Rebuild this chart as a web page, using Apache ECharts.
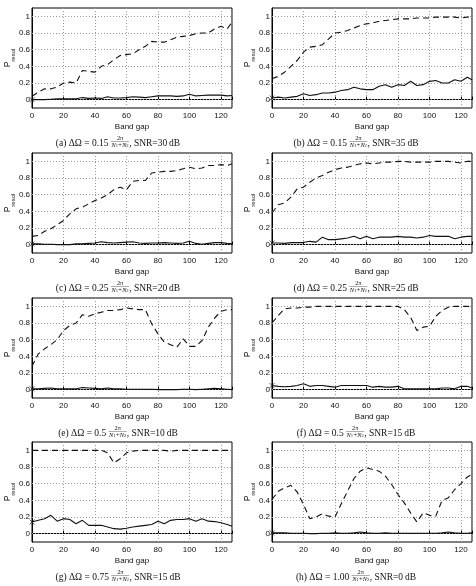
<!DOCTYPE html>
<html><head><meta charset="utf-8">
<script src="https://cdn.jsdelivr.net/npm/echarts@6/dist/echarts.min.js"></script>
<style>html,body{margin:0;padding:0;background:#fff}#c{width:476px;height:586px}</style>
</head><body><div id="c"></div>
<script>
const bandGap = [0,4,8,12,16,20,24,28,32,36,40,44,48,52,56,60,64,68,72,76,80,84,88,92,96,100,104,108,112,116,120,124,127];
const yTicks = [0,0.2,0.4,0.6,0.8,1];
const xTicks = [0,20,40,60,80,100,120];

const dashA = [0.04,0.09,0.13,0.13,0.15,0.2,0.21,0.2,0.35,0.34,0.33,0.4,0.42,0.48,0.53,0.54,0.55,0.6,0.64,0.7,0.69,0.69,0.72,0.75,0.76,0.77,0.79,0.8,0.8,0.85,0.88,0.85,0.93];
const solidA = [0,0,0,0.005,0.01,0.01,0.01,0.01,0.025,0.015,0.02,0.015,0.035,0.02,0.02,0.025,0.035,0.03,0.025,0.035,0.045,0.045,0.045,0.04,0.045,0.065,0.045,0.05,0.055,0.055,0.055,0.045,0.05];
const dashB = [0.25,0.28,0.33,0.4,0.47,0.57,0.63,0.64,0.66,0.73,0.8,0.81,0.83,0.86,0.89,0.91,0.92,0.94,0.95,0.96,0.97,0.97,0.97,0.98,0.98,0.98,0.99,0.99,0.99,0.99,0.98,0.99,1.0];
const solidB = [0.02,0.03,0.02,0.03,0.04,0.07,0.05,0.06,0.08,0.08,0.09,0.11,0.12,0.15,0.13,0.12,0.12,0.16,0.18,0.15,0.18,0.17,0.22,0.17,0.18,0.22,0.23,0.2,0.2,0.24,0.22,0.27,0.24];
const dashC = [0.1,0.11,0.16,0.19,0.24,0.29,0.37,0.43,0.45,0.49,0.53,0.56,0.6,0.66,0.69,0.66,0.76,0.77,0.77,0.86,0.87,0.88,0.88,0.89,0.91,0.93,0.91,0.92,0.95,0.95,0.96,0.95,0.97];
const solidC = [0.01,0.01,0.005,0.005,0,0,0,0.01,0.01,0.015,0.02,0.035,0.025,0.02,0.025,0.03,0.035,0.02,0.015,0.02,0.02,0.025,0.02,0.015,0.02,0.04,0.015,0.005,0.015,0.025,0.025,0.015,0.01];
const dashD = [0.38,0.48,0.5,0.57,0.67,0.69,0.75,0.8,0.83,0.87,0.9,0.92,0.93,0.95,0.97,0.98,0.97,0.98,0.99,0.99,1,1,0.99,0.99,0.99,0.99,1,1,1,0.99,0.98,1,1];
const solidD = [0.02,0.02,0.015,0.025,0.025,0.025,0.04,0.03,0.09,0.06,0.06,0.07,0.08,0.1,0.07,0.1,0.07,0.09,0.09,0.09,0.1,0.09,0.09,0.08,0.09,0.11,0.1,0.1,0.1,0.07,0.09,0.1,0.1];
const dashE = [0.28,0.43,0.49,0.54,0.6,0.71,0.77,0.8,0.9,0.88,0.91,0.93,0.95,0.95,0.96,0.98,0.97,0.96,0.96,0.79,0.67,0.57,0.54,0.51,0.61,0.52,0.52,0.59,0.75,0.86,0.94,0.96,0.96];
const solidE = [0.01,0.01,0.015,0.02,0.01,0.01,0.01,0.01,0.025,0.02,0.015,0.01,0.02,0.01,0.01,0.005,0.005,0.005,0.005,0.005,0,0,0,0,0.005,0.005,0,0.005,0.01,0.015,0.01,0.005,0];
const dashF = [0.8,0.89,0.97,0.98,0.98,0.99,0.99,1,1,1,1,1,1,1,1,1,1,1,1,1,1,0.96,0.87,0.71,0.75,0.76,0.88,0.95,0.99,1,1,1,0.99];
const solidF = [0.05,0.04,0.035,0.04,0.05,0.07,0.04,0.05,0.05,0.04,0.03,0.05,0.05,0.05,0.05,0.05,0.03,0.04,0.03,0.03,0.04,0.01,0.01,0.01,0.01,0.01,0.01,0.02,0.02,0.01,0.04,0.04,0.02];
const dashG = [1,1,1,1,1,1,1,1,1,1,1,1,0.97,0.85,0.9,0.97,0.99,1,1,1,1,1,0.99,1,1,1,1,1,1,1,1,1,1];
const solidG = [0.14,0.16,0.18,0.22,0.15,0.18,0.17,0.12,0.16,0.1,0.1,0.1,0.08,0.06,0.055,0.065,0.08,0.09,0.1,0.11,0.15,0.12,0.16,0.17,0.17,0.18,0.15,0.18,0.15,0.145,0.13,0.11,0.09];
const dashH = [0.41,0.51,0.55,0.58,0.5,0.35,0.18,0.2,0.24,0.21,0.2,0.36,0.51,0.66,0.75,0.79,0.77,0.75,0.69,0.59,0.47,0.37,0.25,0.14,0.25,0.22,0.21,0.4,0.43,0.53,0.6,0.68,0.71];
const solidH = [0.01,0.01,0.01,0.005,0.005,0.005,0,0,0.005,0.005,0.01,0.005,0.005,0.01,0.02,0.01,0.005,0.005,0.01,0.005,0.005,0.005,0.005,0.005,0.005,0.005,0.005,0.01,0.02,0.01,0.005,0.005,0.01];

const dashed = [dashA,dashB,dashC,dashD,dashE,dashF,dashG,dashH];
const solid = [solidA,solidB,solidC,solidD,solidE,solidF,solidG,solidH];
const letters = ['a','b','c','d','e','f','g','h'];
const deltaOmega = ['0.15','0.15','0.25','0.25','0.5','0.5','0.75','1.00'];
const snrDb = ['30','35','20','25','10','15','15','0'];
const xName = 'Band gap';

const LEFTS = [32, 272], TOPS = [8, 153, 298, 442], W = 200, H = 100;
const CAP_CX = [118, 356];
const SANS = '"Liberation Sans", Arial, sans-serif';
const SERIF = '"Liberation Serif", "Times New Roman", serif';
const GRID_LINE = {color: '#9a9a9a', type: [1, 2], width: 1};

const grids = [], xAxes = [], yAxes = [], series = [], graphics = [];
const mctx = document.createElement('canvas').getContext('2d');
function tw(t, f){ mctx.font = f; return mctx.measureText(t).width; }

function caption(i, cx, cy){
  const fMain = '9.5px ' + SERIF;
  const fFr = '6.3px ' + SERIF, fFrI = 'italic 6.3px ' + SERIF, fSub = '4.6px ' + SERIF;
  const L = '(' + letters[i] + ') ΔΩ = ' + deltaOmega[i] + ' ';
  const R = ', SNR=' + snrDb[i] + '\u2009dB';
  const num = '2π';
  const den = [['N', fFrI, 0], ['1', fSub, 1.2], ['+', fFr, 0], ['N', fFrI, 0], ['2', fSub, 1.2]];
  const wL = tw(L, fMain), wR = tw(R, fMain);
  const denW = den.reduce((s, d) => s + tw(d[0], d[1]) + (d[0] === '+' ? 0.6 : 0), 0);
  const fracW = Math.max(denW, tw(num, fFr)) + 1;
  const total = wL + fracW + wR;
  let x = cx - total / 2;
  const out = [];
  out.push({type:'text', x:x, y:cy, style:{text:L, font:fMain, fill:'#111', align:'left', verticalAlign:'middle'}});
  x += wL;
  const lineY = cy - 1.5;
  out.push({type:'line', shape:{x1:x, y1:lineY, x2:x+fracW, y2:lineY}, style:{stroke:'#333', lineWidth:0.4}});
  out.push({type:'text', x:x + fracW/2, y:lineY - 0.6, style:{text:num, font:fFr, fill:'#111', align:'center', verticalAlign:'bottom'}});
  let dx = x + (fracW - denW) / 2;
  den.forEach(d => {
    if (d[0] === '+') dx += 0.3;
    out.push({type:'text', x:dx, y:lineY + 1 + d[2], style:{text:d[0], font:d[1], fill:'#111', align:'left', verticalAlign:'top'}});
    dx += tw(d[0], d[1]) + (d[0] === '+' ? 0.3 : 0);
  });
  x += fracW;
  out.push({type:'text', x:x, y:cy, style:{text:R, font:fMain, fill:'#111', align:'left', verticalAlign:'middle'}});
  return out;
}

function yAxisTitle(x, y){
  return {type: 'text', x: x, y: y, rotation: Math.PI / 2, silent: true,
    style: {text: '{p|P}{s|resol}', align: 'center', verticalAlign: 'middle', fill: '#111',
      rich: {p: {fontFamily: SANS, fontSize: 8.5, lineHeight: 16, verticalAlign: 'middle', fill: '#111', color: '#111'},
             s: {fontFamily: SANS, fontSize: 6, lineHeight: 16, verticalAlign: 'bottom', fill: '#111', color: '#111'}}}};
}

for (let i = 0; i < 8; i++) {
  const col = i % 2, row = Math.floor(i / 2);
  grids.push({left: LEFTS[col], top: TOPS[row], width: W, height: H, show: true, borderColor: '#000', borderWidth: 1});
  xAxes.push({
    type: 'value', gridIndex: i, min: 0, max: 127, interval: 20,
    name: xName, nameLocation: 'middle', nameGap: 15,
    nameTextStyle: {fontFamily: SANS, fontSize: 8, color: '#111'},
    axisLine: {show: true, lineStyle: {color: '#000', width: 1}},
    axisTick: {show: true, inside: true, length: 3, lineStyle: {color: '#000'}},
    axisLabel: {fontFamily: SANS, fontSize: 8, color: '#111', margin: 4,
      formatter: v => (xTicks.indexOf(Math.round(v)) >= 0 && Math.abs(v - Math.round(v)) < 1e-6) ? String(Math.round(v)) : ''},
    splitLine: {show: true, lineStyle: GRID_LINE}
  });
  yAxes.push({
    type: 'value', gridIndex: i, min: -0.1, max: 1.1, interval: 0.1,
    axisLine: {show: true, lineStyle: {color: '#000', width: 1}},
    axisTick: {show: false},
    axisLabel: {show: false},
    splitLine: {show: false}
  });
  series.push({
    type: 'line', xAxisIndex: i, yAxisIndex: i, showSymbol: false, symbol: 'none',
    data: bandGap.map((x, j) => [x, dashed[i][j]]),
    lineStyle: {color: '#111', width: 1.1, type: [6, 4]}, silent: true, animation: false,
    z: 3
  });
  series.push({
    type: 'line', xAxisIndex: i, yAxisIndex: i, showSymbol: false, symbol: 'none',
    data: bandGap.map((x, j) => [x, solid[i][j]]),
    lineStyle: {color: '#111', width: 1.1}, silent: true, animation: false, z: 3,
    markLine: {silent: true, symbol: 'none', animation: false, z: 1,
      label: {show: false}, lineStyle: GRID_LINE, emphasis: {disabled: true},
      data: yTicks.map(v => ({yAxis: v}))}
  });
  series.push({
    type: 'scatter', xAxisIndex: i, yAxisIndex: i,
    data: [[bandGap[0], solid[i][0]]],
    symbol: 'path://M0,0L10,10M10,0L0,10', symbolSize: 5, z: 4,
    itemStyle: {color: 'transparent', borderColor: '#111', borderWidth: 0.8}, silent: true, animation: false
  });
  graphics.push(...caption(i, CAP_CX[col], TOPS[row] + 135));
  graphics.push(yAxisTitle(LEFTS[col] - 24, TOPS[row] + 50));
}

const chart = echarts.init(document.getElementById('c'), null, {renderer: 'canvas'});
chart.setOption({
  animation: false, backgroundColor: '#fff',
  grid: grids, xAxis: xAxes, yAxis: yAxes, series: series, graphic: graphics
});

// y tick labels placed through the library's own y scale
const tickLabels = [];
for (let i = 0; i < 8; i++) {
  yTicks.forEach(v => {
    const p = chart.convertToPixel({gridIndex: i}, [0, v]);
    tickLabels.push({type: 'text', x: p[0] - 2, y: p[1], silent: true, z: 10,
      style: {text: String(v), font: '8px ' + SANS, fill: '#111', align: 'right', verticalAlign: 'middle'}});
  });
}
chart.setOption({graphic: graphics.concat(tickLabels)});
</script></body></html>
